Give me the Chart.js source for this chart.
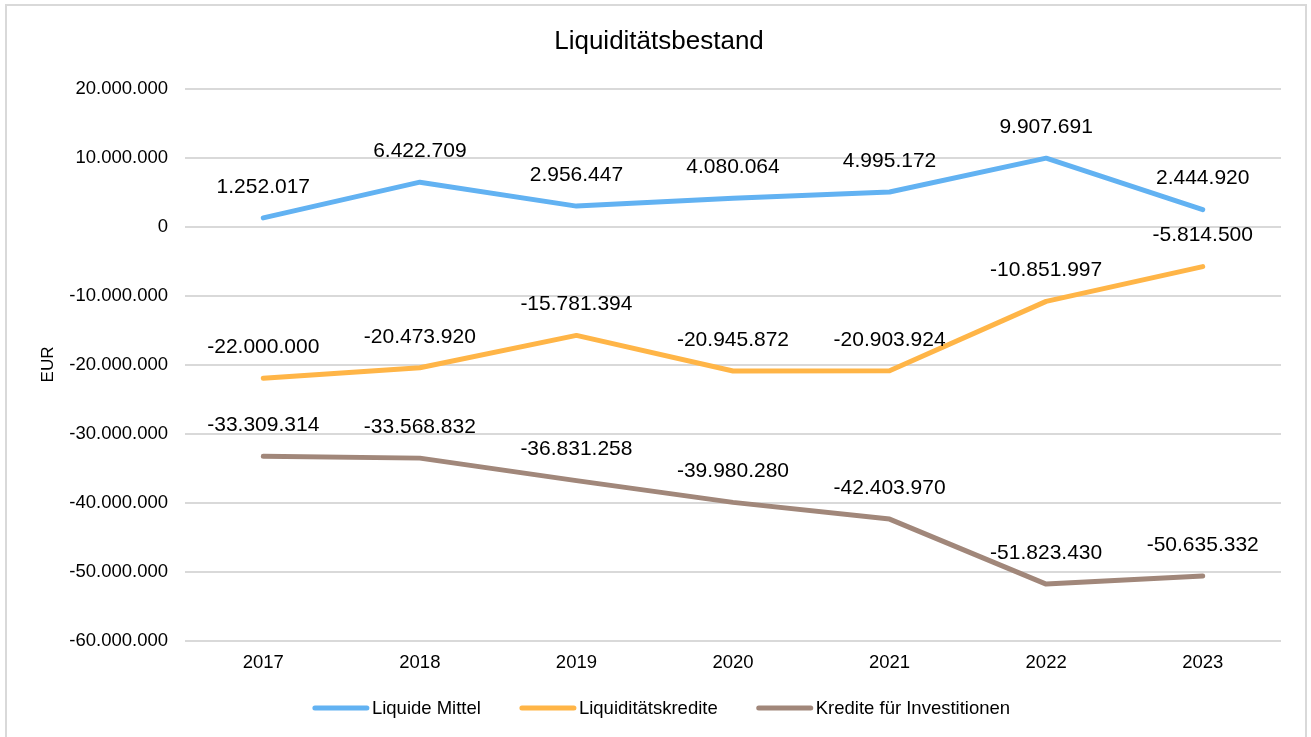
<!DOCTYPE html>
<html lang="de">
<head>
<meta charset="utf-8">
<title>Liquiditätsbestand</title>
<script src="https://cdn.jsdelivr.net/npm/chart.js@4.4.1/dist/chart.umd.min.js"></script>
<style>
  html, body { margin: 0; padding: 0; background: #ffffff; }
  #wrap { width: 1311px; height: 737px; }
</style>
</head>
<body>
<div id="wrap"><canvas id="chart" width="1311" height="737"></canvas></div>
<script>
// Jahre und Werte (EUR)
const years = ['2017', '2018', '2019', '2020', '2021', '2022', '2023'];
const liquideMittel = [1252017, 6422709, 2956447, 4080064, 4995172, 9907691, 2444920];
const liquiditaetskredite = [-22000000, -20473920, -15781394, -20945872, -20903924, -10851997, -5814500];
const krediteInvestitionen = [-33309314, -33568832, -36831258, -39980280, -42403970, -51823430, -50635332];
const seriesNames = ['Liquide Mittel', 'Liquiditätskredite', 'Kredite für Investitionen'];
const yTicks = [20000000, 10000000, 0, -10000000, -20000000, -30000000, -40000000, -50000000, -60000000];

const FONT = '"Liberation Sans", Arial, Helvetica, sans-serif';
const colors = ['#62B2F2', '#FFB547', '#A1877A'];

// Zahlen mit Punkt als Tausendertrennzeichen
function fmt(v) {
  const neg = v < 0;
  const s = String(Math.abs(Math.round(v)));
  const out = s.replace(/\B(?=(\d{3})+(?!\d))/g, '.');
  return (neg ? '-' : '') + out;
}

// Rahmen um das Diagramm
const frame = {
  id: 'frame',
  beforeDraw(chart) {
    const c = chart.ctx;
    c.save();
    c.fillStyle = '#ffffff';
    c.fillRect(0, 0, chart.width, chart.height);
    c.strokeStyle = '#d9d9d9';
    c.lineWidth = 2;
    c.strokeRect(6, 5, 1300, 800);
    c.restore();
  }
};

// Datenbeschriftungen über den Punkten
const valueLabels = {
  id: 'valueLabels',
  afterDatasetsDraw(chart) {
    const c = chart.ctx;
    c.save();
    c.font = '21px ' + FONT;
    c.fillStyle = '#000000';
    c.textAlign = 'center';
    c.textBaseline = 'middle';
    chart.data.datasets.forEach((ds, i) => {
      const meta = chart.getDatasetMeta(i);
      meta.data.forEach((pt, j) => {
        c.fillText(fmt(ds.data[j]), pt.x, pt.y - 31);
      });
    });
    c.restore();
  }
};

// Legende unter dem Diagramm
const bottomLegend = {
  id: 'bottomLegend',
  afterDraw(chart) {
    const c = chart.ctx;
    c.save();
    c.font = '18.5px ' + FONT;
    c.textBaseline = 'middle';
    const sw = 58, gapText = 2, gapItem = 38, y = 708;
    const widths = chart.data.datasets.map(ds => sw + gapText + c.measureText(ds.label).width);
    const total = widths.reduce((a, b) => a + b, 0) + gapItem * (widths.length - 1);
    let x = 661 - total / 2;
    chart.data.datasets.forEach((ds, i) => {
      c.strokeStyle = ds.borderColor;
      c.lineWidth = 5;
      c.lineCap = 'round';
      c.beginPath();
      c.moveTo(x + 3, y);
      c.lineTo(x + sw - 3, y);
      c.stroke();
      c.fillStyle = '#000000';
      c.textAlign = 'left';
      c.fillText(ds.label, x + sw + gapText, y + 1);
      x += widths[i] + gapItem;
    });
    c.restore();
  }
};

const mkSet = (label, data, color) => ({
  label, data,
  borderColor: color,
  backgroundColor: color,
  borderWidth: 5,
  borderCapStyle: 'round',
  borderJoinStyle: 'round',
  pointRadius: 0,
  pointHoverRadius: 0,
  tension: 0,
  fill: false
});

new Chart(document.getElementById('chart'), {
  type: 'line',
  data: {
    labels: years,
    datasets: [
      mkSet(seriesNames[0], liquideMittel, colors[0]),
      mkSet(seriesNames[1], liquiditaetskredite, colors[1]),
      mkSet(seriesNames[2], krediteInvestitionen, colors[2])
    ]
  },
  options: {
    responsive: false,
    devicePixelRatio: 1,
    animation: false,
    layout: { padding: { left: 37, right: 30, top: 0, bottom: 56.5 } },
    plugins: {
      legend: { display: false },
      tooltip: { enabled: false },
      title: {
        display: true,
        text: 'Liquiditätsbestand',
        color: '#000000',
        font: { family: FONT, size: 26, weight: 'normal', lineHeight: 1.2 },
        padding: { top: 26.4, bottom: 30.9 }
      }
    },
    scales: {
      x: {
        offset: true,
        grid: { display: false, drawTicks: false },
        border: { display: false },
        ticks: { color: '#000000', font: { family: FONT, size: 18.5 }, padding: 11, maxRotation: 0 },
        afterFit(s) { s.height = 40; }
      },
      y: {
        min: -60000000,
        max: 20000000,
        afterBuildTicks(s) { s.ticks = yTicks.map(v => ({ value: v })); },
        grid: { color: '#d9d9d9', lineWidth: 2, drawTicks: false },
        border: { display: false },
        ticks: {
          color: '#000000',
          font: { family: FONT, size: 18.5 },
          padding: 17,
          callback: v => fmt(v)
        },
        title: {
          display: true,
          text: 'EUR',
          color: '#000000',
          font: { family: FONT, size: 17 },
          padding: { top: 1, bottom: 0 }
        },
        afterFit(s) { s.width = 148; }
      }
    }
  },
  plugins: [frame, valueLabels, bottomLegend]
});
</script>
</body>
</html>
